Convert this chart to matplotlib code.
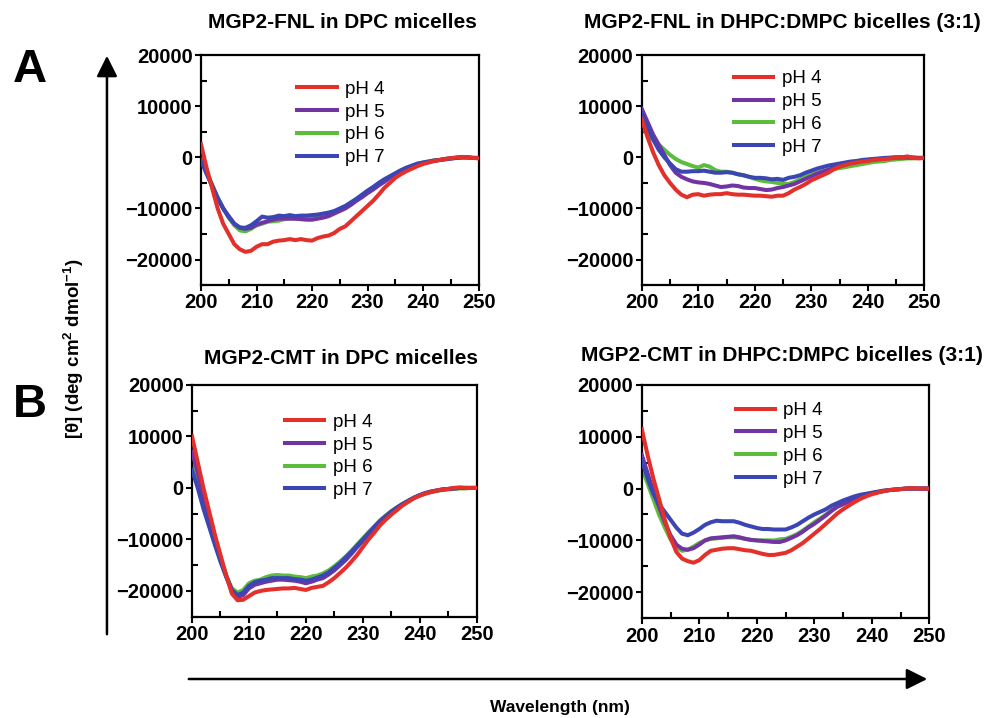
import matplotlib
matplotlib.use("Agg")
import matplotlib.pyplot as plt
from matplotlib.ticker import MultipleLocator

plt.rcParams['font.family'] = ['Liberation Sans', 'DejaVu Sans']
plt.rcParams['mathtext.fontset'] = 'custom'
plt.rcParams['mathtext.rm'] = 'Liberation Sans:bold'
plt.rcParams['mathtext.it'] = 'Liberation Sans:bold'
plt.rcParams['mathtext.bf'] = 'Liberation Sans:bold'

# wavelength (nm), 1 nm steps
wl = list(range(200, 251))
labels = ['pH 4', 'pH 5', 'pH 6', 'pH 7']
colors = ['#e3302b', '#7234a3', '#5cbd3c', '#3b46b4']

# MGP2-FNL in DPC micelles
fnl_dpc_ph4 = [2600, -2000, -6000, -10000, -13000, -15000, -17000, -18000, -18500, -18300,
               -17500, -17000, -17000, -16500, -16300, -16200, -16000, -16200, -16000, -16200,
               -16300, -15800, -15500, -15300, -14800, -14000, -13500, -12500, -11500, -10500,
               -9500, -8500, -7300, -6000, -5000, -4000, -3300, -2700, -2200, -1700,
               -1300, -1000, -700, -500, -300, -150, 0, 100, 0, -100, -200]
fnl_dpc_ph5 = [-500, -3000, -5500, -8000, -10000, -11500, -13000, -13800, -14000, -13800,
               -13200, -12800, -12500, -12200, -12000, -12000, -12000, -12000, -12100, -12200,
               -12200, -12000, -11800, -11500, -11000, -10500, -10000, -9300, -8500, -7800,
               -7000, -6300, -5500, -4800, -4000, -3300, -2800, -2200, -1800, -1400,
               -1100, -900, -700, -500, -400, -200, -100, 0, 0, -100, -100]
fnl_dpc_ph6 = [-300, -2800, -5300, -7800, -10000, -11800, -13300, -14300, -14500, -14000,
               -13300, -13000, -12600, -12500, -12400, -12100, -11900, -12000, -12000, -12000,
               -12000, -11800, -11500, -11200, -10800, -10300, -9700, -9000, -8300, -7500,
               -6800, -6000, -5300, -4600, -3900, -3200, -2700, -2100, -1700, -1300,
               -1000, -800, -600, -500, -300, -200, -100, 0, 0, -100, -100]
fnl_dpc_ph7 = [-500, -3200, -5600, -8000, -10000, -11700, -13000, -13700, -13800, -13300,
               -12500, -11600, -11800, -11700, -11400, -11500, -11300, -11500, -11400, -11400,
               -11300, -11200, -11000, -10800, -10500, -10000, -9500, -8800, -8100, -7300,
               -6500, -5800, -5000, -4300, -3700, -3100, -2500, -2000, -1600, -1200,
               -1000, -800, -600, -500, -300, -200, -100, 0, 0, -100, -100]

# MGP2-FNL in DHPC:DMPC bicelles (3:1)
fnl_bic_ph4 = [7500, 4000, 1000, -1500, -3500, -5000, -6300, -7300, -7800, -7300,
               -7200, -7500, -7300, -7200, -7200, -7000, -7200, -7300, -7300, -7400,
               -7500, -7500, -7600, -7700, -7500, -7500, -7000, -6300, -5800, -5200,
               -4500, -4000, -3500, -3000, -2300, -1800, -1500, -1200, -1000, -800,
               -700, -500, -400, -300, -200, -100, 0, 200, -100, -200, -100]
fnl_bic_ph5 = [9500, 7000, 4500, 2500, 500, -1500, -3000, -3800, -4300, -4700,
               -4900, -5000, -5200, -5500, -5800, -5700, -5500, -5600, -5900, -6000,
               -6000, -6200, -6400, -6300, -6000, -5800, -5500, -5200, -4700, -4200,
               -3700, -3200, -2800, -2400, -2000, -1700, -1400, -1100, -900, -700,
               -500, -400, -300, -200, -100, 0, 0, 0, -100, -100, -100]
fnl_bic_ph6 = [6000, 4500, 3500, 2500, 1500, 500, -300, -900, -1300, -1700,
               -2000, -1500, -1800, -2500, -2800, -2800, -3000, -3300, -3500, -3800,
               -4200, -4500, -4700, -4800, -5000, -5100, -5200, -4800, -4300, -3800,
               -3300, -3000, -2700, -2500, -2300, -2100, -1900, -1700, -1500, -1300,
               -1100, -900, -800, -700, -500, -400, -300, -200, -200, -100, -100]
fnl_bic_ph7 = [8500, 6000, 3500, 1500, 0, -1200, -2300, -2800, -2800, -2700,
               -2700, -2600, -2800, -3000, -3000, -2900, -3000, -3300, -3500, -3800,
               -4000, -4000, -4100, -4300, -4200, -4400, -4000, -3800, -3500, -3000,
               -2600, -2200, -1900, -1600, -1400, -1200, -1000, -800, -700, -500,
               -400, -300, -200, -100, -50, 0, 0, 0, 0, -100, -100]

# MGP2-CMT in DPC micelles
cmt_dpc_ph4 = [10000, 5000, 0, -4500, -9000, -13000, -17000, -20500, -21800, -21700,
               -21000, -20300, -20000, -19800, -19700, -19600, -19500, -19500, -19400, -19600,
               -19800, -19400, -19200, -19000, -18300, -17500, -16500, -15500, -14300, -13000,
               -11500, -10000, -8700, -7300, -6200, -5200, -4300, -3400, -2700, -2000,
               -1500, -1100, -800, -500, -300, -200, 0, 100, 0, 0, 0]
cmt_dpc_ph5 = [7000, 3000, -1500, -6000, -10000, -13500, -17000, -20000, -21200, -20800,
               -19500, -18800, -18500, -18200, -18000, -17800, -17800, -17900, -18000, -18200,
               -18500, -18200, -17800, -17500, -16800, -16000, -15000, -14000, -12800, -11500,
               -10300, -9000, -7800, -6600, -5600, -4700, -3900, -3200, -2500, -1900,
               -1400, -1000, -700, -500, -300, -200, -100, 0, 0, 0, 0]
cmt_dpc_ph6 = [5000, 1000, -3000, -7000, -10500, -14000, -17000, -19500, -20300, -19800,
               -18500, -18000, -17800, -17300, -17000, -16900, -17000, -17000, -17200, -17300,
               -17500, -17200, -17000, -16600, -16000, -15200, -14300, -13300, -12200, -11000,
               -9800, -8600, -7500, -6300, -5400, -4500, -3800, -3100, -2500, -1900,
               -1500, -1100, -800, -600, -400, -300, -200, -100, -100, 0, 0]
cmt_dpc_ph7 = [3500, 0, -4000, -7500, -11000, -14300, -17300, -19800, -20800, -20300,
               -19000, -18300, -18000, -17800, -17500, -17500, -17500, -17500, -17700, -17800,
               -18000, -17800, -17400, -17000, -16400, -15500, -14600, -13500, -12400, -11200,
               -10000, -8800, -7600, -6500, -5500, -4600, -3800, -3100, -2500, -1900,
               -1400, -1000, -700, -500, -300, -200, -100, 0, 0, 0, 0]

# MGP2-CMT in DHPC:DMPC bicelles (3:1)
cmt_bic_ph4 = [11500, 6500, 2000, -2000, -6000, -9500, -12200, -13500, -14000, -14300,
               -13800, -12800, -12000, -11800, -11600, -11500, -11500, -11700, -11900, -12000,
               -12300, -12600, -12800, -12800, -12600, -12400, -11900, -11200, -10500, -9600,
               -8700, -7800, -6800, -5800, -4800, -4000, -3300, -2600, -2000, -1500,
               -1100, -800, -500, -300, -200, -100, 0, 100, 0, 0, 0]
cmt_bic_ph5 = [6500, 3000, -500, -3500, -6500, -9000, -10800, -11600, -11800, -11500,
               -10800, -10000, -9600, -9500, -9400, -9300, -9200, -9400, -9700, -9900,
               -10000, -10100, -10200, -10300, -10300, -10000, -9500, -9000, -8300, -7500,
               -6800, -6000, -5200, -4300, -3500, -3000, -2500, -2000, -1600, -1200,
               -900, -700, -500, -300, -200, -100, 0, 0, 0, 0, 0]
cmt_bic_ph6 = [4000, 1000, -2000, -5000, -7500, -9800, -11300, -12000, -11800, -11200,
               -10500, -10000, -9700, -9600, -9500, -9400, -9400, -9500, -9700, -9900,
               -10000, -10000, -10000, -10000, -9800, -9700, -9300, -8800, -8100, -7300,
               -6500, -5800, -5000, -4200, -3500, -3000, -2500, -2000, -1600, -1200,
               -900, -700, -500, -300, -200, -100, 0, 0, 0, 0, 0]
cmt_bic_ph7 = [5500, 2000, -1000, -3000, -4500, -6000, -7500, -8700, -9000, -8500,
               -7800, -7000, -6500, -6200, -6300, -6300, -6300, -6600, -7000, -7300,
               -7600, -7800, -7800, -7900, -7900, -7900, -7500, -7000, -6300, -5600,
               -5000, -4500, -4000, -3300, -2800, -2300, -1900, -1500, -1200, -1000,
               -800, -600, -400, -300, -200, -100, 0, 0, 0, 0, 0]

panels = [
    ([0.202, 0.603, 0.279, 0.320], [fnl_dpc_ph4, fnl_dpc_ph5, fnl_dpc_ph6, fnl_dpc_ph7], (0.32, 0.922)),
    ([0.645, 0.603, 0.284, 0.320], [fnl_bic_ph4, fnl_bic_ph5, fnl_bic_ph6, fnl_bic_ph7], (0.30, 0.967)),
    ([0.193, 0.141, 0.286, 0.323], [cmt_dpc_ph4, cmt_dpc_ph5, cmt_dpc_ph6, cmt_dpc_ph7], (0.30, 0.908)),
    ([0.645, 0.139, 0.289, 0.325], [cmt_bic_ph4, cmt_bic_ph5, cmt_bic_ph6, cmt_bic_ph7], (0.30, 0.958)),
]
zorders = [5, 3, 2, 4]

fig = plt.figure(figsize=(9.95, 7.18), dpi=100)

for rect, series, legpos in panels:
    ax = fig.add_axes(rect)
    for ys, c, lab, z in zip(series, colors, labels, zorders):
        ax.plot(wl, ys, color=c, lw=2.9, label=lab, zorder=z)
    ax.set_xlim(200, 250)
    ax.set_ylim(-25000, 20000)
    ax.set_xticks([200, 210, 220, 230, 240, 250])
    ax.set_yticks([-20000, -10000, 0, 10000, 20000])
    ax.xaxis.set_minor_locator(MultipleLocator(5))
    ax.yaxis.set_minor_locator(MultipleLocator(5000))
    ax.tick_params(which='major', direction='out', length=4, width=1.5,
                   labelsize=14.5, pad=2)
    ax.tick_params(which='minor', direction='in', length=4, width=1.5)
    for lbl in ax.get_xticklabels() + ax.get_yticklabels():
        lbl.set_fontweight('bold')
    for s in ax.spines.values():
        s.set_linewidth(1.6)
    ax.legend(loc='upper left', bbox_to_anchor=legpos, frameon=False,
              fontsize=13.5, handlelength=2.1, handletextpad=0.45,
              labelspacing=0.3, borderaxespad=0)

# panel titles
fig.text(0.344, 0.969, 'MGP2-FNL in DPC micelles', ha='center', va='center',
         fontsize=15, fontweight='bold')
fig.text(0.786, 0.969, 'MGP2-FNL in DHPC:DMPC bicelles (3:1)', ha='center', va='center',
         fontsize=15, fontweight='bold')
fig.text(0.343, 0.501, 'MGP2-CMT in DPC micelles', ha='center', va='center',
         fontsize=15, fontweight='bold')
fig.text(0.786, 0.505, 'MGP2-CMT in DHPC:DMPC bicelles (3:1)', ha='center', va='center',
         fontsize=15, fontweight='bold')

# panel letters
fig.text(0.030, 0.902, 'A', ha='center', va='center', fontsize=34, fontweight='bold')
fig.text(0.030, 0.436, 'B', ha='center', va='center', fontsize=34, fontweight='bold')

# shared axis arrows and labels
fig.add_artist(matplotlib.patches.FancyArrowPatch(
    (0.1075, 1 - 637 / 718), (0.1075, 1 - 53 / 718), transform=fig.transFigure,
    arrowstyle='-|>,head_length=0.9,head_width=0.45', mutation_scale=14,
    color='black', lw=1.8))
fig.add_artist(matplotlib.patches.FancyArrowPatch(
    (186 / 995, 1 - 679 / 718), (930 / 995, 1 - 679 / 718), transform=fig.transFigure,
    arrowstyle='-|>,head_length=0.9,head_width=0.45', mutation_scale=14,
    color='black', lw=1.8))
fig.text(0.074, 0.515, r'[θ] (deg cm$^{2}$ dmol$^{-1}$)', rotation=90,
         ha='center', va='center', fontsize=13.5, fontweight='bold')
fig.text(0.563, 0.014, 'Wavelength (nm)', ha='center', va='center',
         fontsize=12.5, fontweight='bold')

fig.savefig('out.png', dpi=100)
